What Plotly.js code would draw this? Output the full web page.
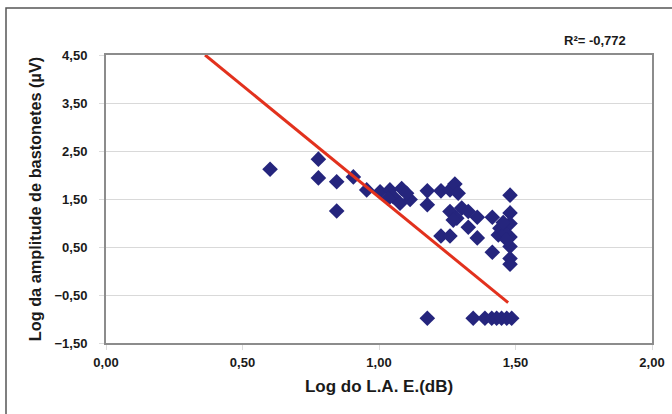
<!DOCTYPE html>
<html>
<head>
<meta charset="utf-8">
<script src="https://cdn.plot.ly/plotly-3.0.1.min.js"></script>
<style>html,body{margin:0;padding:0;background:#fff;}#chart{width:672px;height:414px;}</style>
</head>
<body>
<div id="chart"></div>
<script>
// Scatter points: Log do L.A.E. (x) vs Log da amplitude de bastonetes (y)
const xValues = [0.601, 0.778, 0.778, 0.845, 0.845, 0.906, 0.955, 1.004, 1.040, 1.052, 1.083, 1.077, 1.114, 1.034, 1.101,
  1.177, 1.177, 1.227, 1.260, 1.278, 1.290, 1.260, 1.285, 1.303, 1.327, 1.272, 1.327, 1.360, 1.360, 1.415, 1.415, 1.227, 1.260,
  1.480, 1.480, 1.480, 1.480, 1.480, 1.480, 1.480, 1.443, 1.437, 1.462, 1.468, 1.455,
  1.177, 1.345, 1.388, 1.413, 1.431, 1.449, 1.468, 1.486];
const yValues = [2.12, 2.33, 1.94, 1.86, 1.25, 1.96, 1.69, 1.65, 1.69, 1.55, 1.72, 1.41, 1.49, 1.51, 1.62,
  1.67, 1.38, 1.67, 1.69, 1.81, 1.62, 1.24, 1.10, 1.31, 1.24, 1.06, 0.91, 1.12, 0.69, 1.12, 0.39, 0.73, 0.73,
  1.58, 1.21, 0.99, 0.71, 0.51, 0.26, 0.14, 0.89, 0.75, 0.79, 0.65, 1.01,
  -0.985, -0.985, -0.985, -0.985, -0.985, -0.985, -0.985, -0.985];
// Trend line endpoints
const trendX = [0.363, 1.473];
const trendY = [4.5, -0.66];
const xTicks = [0, 0.5, 1, 1.5, 2];
const yTicks = [-1.5, -0.5, 0.5, 1.5, 2.5, 3.5, 4.5];
const rLabel = 'R²= -0,772';

const fam = 'Liberation Sans, Arial, sans-serif';
const txt = '#1a1a1a';
const data = [
  {x: xValues, y: yValues, type: 'scatter', mode: 'markers',
   marker: {symbol: 'diamond', size: 12, color: '#25257d', line: {width: 0}}, cliponaxis: false, hoverinfo: 'x+y'},
  {x: trendX, y: trendY, type: 'scatter', mode: 'lines',
   line: {color: '#e2311d', width: 3}, hoverinfo: 'skip'}
];
const layout = {
  width: 672, height: 414,
  margin: {l: 106, r: 20, t: 55, b: 71},
  paper_bgcolor: '#ffffff', plot_bgcolor: '#ffffff',
  showlegend: false,
  separators: ',.',
  font: {family: fam, color: txt},
  xaxis: {range: [0, 2], tickvals: xTicks, tickformat: '.2f', showgrid: false, zeroline: false,
    showline: true, linecolor: '#8c8c8c', linewidth: 2, mirror: true,
    ticks: 'outside', ticklen: 5, tickcolor: '#dcdcdc', tickwidth: 1, ticklabelstandoff: 1,
    tickfont: {family: fam, size: 13, color: txt, weight: 'bold'},
    title: {text: 'Log do L.A. E.(dB)', standoff: 12, font: {family: fam, size: 17, color: txt, weight: 'bold'}}},
  yaxis: {range: [-1.5, 4.5], tickvals: yTicks, tickformat: '.2f', showgrid: true, gridcolor: '#d9d9d9', gridwidth: 1,
    zeroline: false, showline: true, linecolor: '#8c8c8c', linewidth: 2, mirror: true,
    ticks: 'outside', ticklen: 5, tickcolor: '#dcdcdc', tickwidth: 1, ticklabelstandoff: 9,
    tickfont: {family: fam, size: 13, color: txt, weight: 'bold'},
    title: {text: 'Log da amplitude de bastonetes (µV)', standoff: 9, font: {family: fam, size: 16.3, color: txt, weight: 'bold'}}},
  annotations: [{text: rLabel, xref: 'paper', yref: 'paper', x: 522/546, y: 302/288, xanchor: 'right', yanchor: 'middle',
    showarrow: false, font: {family: fam, size: 13, color: txt, weight: 'bold'}}],
  shapes: [{type: 'rect', xref: 'paper', yref: 'paper', x0: -100/546, x1: 700/546, y0: -200/288, y1: 335/288,
    line: {color: '#555555', width: 1.5}, fillcolor: 'rgba(0,0,0,0)', layer: 'below'}]
};
Plotly.newPlot('chart', data, layout, {staticPlot: true, displayModeBar: false});
</script>
</body>
</html>
